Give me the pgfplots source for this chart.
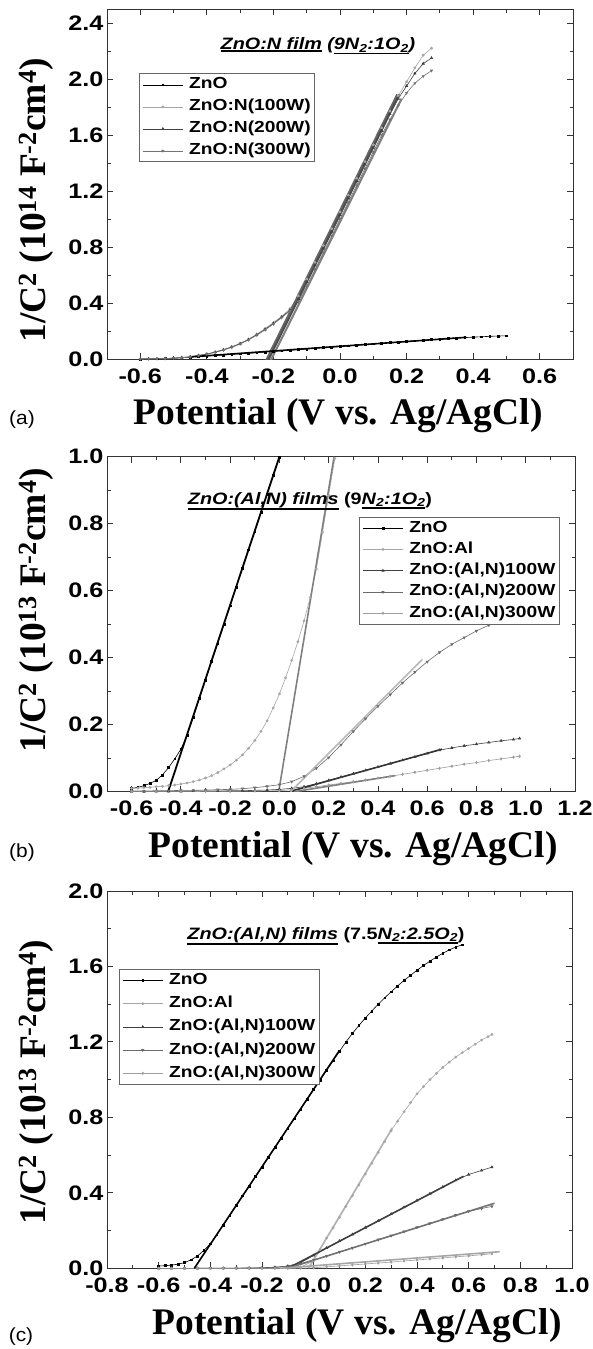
\documentclass[border=0pt]{standalone}
\usepackage{fontspec}
\setmainfont{Liberation Serif}
\newfontfamily\sansS{Liberation Sans}[FakeStretch=1.2]
\newfontfamily\sansR{Liberation Sans}[FakeStretch=1.1]
\usepackage{pgfplots}
\usepackage{pgfplotstable}
\pgfplotsset{compat=1.18}

\newcommand\ul[1]{\setbox0\hbox{#1}\rlap{\rule[\dimexpr-\dp0-2pt\relax]{\wd0}{1.5pt}}\box0\relax}
\newcommand\lab{\bfseries\fontsize{37.5}{40}\selectfont}
\newcommand\ttl{\sansS\bfseries\itshape\fontsize{16.5}{19}\selectfont}
\newcommand\plab{\sansR\fontsize{19}{20}\selectfont}

% ---------------- panel (a) ----------------
\pgfplotstableread{
x y
-0.600 0.000
-0.575 0.001
-0.550 0.002
-0.525 0.004
-0.500 0.006
-0.475 0.009
-0.450 0.013
-0.425 0.017
-0.400 0.021
-0.375 0.025
-0.350 0.029
-0.325 0.033
-0.300 0.037
-0.275 0.041
-0.250 0.045
-0.225 0.050
-0.200 0.054
-0.175 0.058
-0.150 0.063
-0.125 0.067
-0.100 0.072
-0.075 0.076
-0.050 0.081
-0.025 0.085
0.000 0.090
0.025 0.094
0.050 0.099
0.075 0.103
0.100 0.108
0.125 0.112
0.150 0.117
0.175 0.121
0.200 0.126
0.225 0.130
0.250 0.134
0.275 0.138
0.300 0.142
0.325 0.146
0.350 0.150
0.375 0.153
0.400 0.156
0.425 0.159
0.450 0.162
0.475 0.164
0.500 0.166
}\aZnO
\pgfplotstableread{
x y
-0.600 0.000
-0.575 0.001
-0.550 0.002
-0.525 0.004
-0.500 0.006
-0.475 0.011
-0.450 0.017
-0.425 0.026
-0.400 0.037
-0.375 0.051
-0.350 0.068
-0.325 0.088
-0.300 0.112
-0.275 0.142
-0.250 0.177
-0.225 0.217
-0.200 0.260
-0.175 0.305
-0.150 0.360
-0.125 0.450
-0.100 0.570
-0.075 0.690
-0.050 0.810
-0.025 0.930
0.000 1.050
0.025 1.170
0.050 1.290
0.075 1.410
0.100 1.530
0.125 1.650
0.150 1.770
0.175 1.880
0.200 1.980
0.225 2.080
0.250 2.170
0.275 2.220
}\aNa
\pgfplotstableread{
x y
-0.600 0.000
-0.575 0.001
-0.550 0.002
-0.525 0.003
-0.500 0.005
-0.475 0.010
-0.450 0.016
-0.425 0.025
-0.400 0.035
-0.375 0.049
-0.350 0.066
-0.325 0.086
-0.300 0.110
-0.275 0.139
-0.250 0.173
-0.225 0.212
-0.200 0.255
-0.175 0.300
-0.150 0.350
-0.125 0.430
-0.100 0.550
-0.075 0.670
-0.050 0.790
-0.025 0.910
0.000 1.030
0.025 1.150
0.050 1.270
0.075 1.390
0.100 1.510
0.125 1.630
0.150 1.750
0.175 1.860
0.200 1.950
0.225 2.040
0.250 2.110
0.275 2.150
}\aNb
\pgfplotstableread{
x y
-0.600 0.000
-0.575 0.001
-0.550 0.002
-0.525 0.003
-0.500 0.005
-0.475 0.009
-0.450 0.015
-0.425 0.024
-0.400 0.034
-0.375 0.047
-0.350 0.063
-0.325 0.083
-0.300 0.107
-0.275 0.136
-0.250 0.170
-0.225 0.208
-0.200 0.250
-0.175 0.295
-0.150 0.345
-0.125 0.410
-0.100 0.520
-0.075 0.640
-0.050 0.760
-0.025 0.880
0.000 1.000
0.025 1.120
0.050 1.240
0.075 1.360
0.100 1.480
0.125 1.600
0.150 1.710
0.175 1.810
0.200 1.900
0.225 1.970
0.250 2.020
0.275 2.060
}\aNc

% ---------------- panel (b) ----------------
\pgfplotstableread{
x y
-0.600 0.010
-0.575 0.013
-0.550 0.018
-0.525 0.025
-0.500 0.034
-0.475 0.050
-0.450 0.072
-0.425 0.098
-0.400 0.127
-0.375 0.168
-0.350 0.222
-0.325 0.278
-0.300 0.333
-0.275 0.389
-0.250 0.444
-0.225 0.500
-0.200 0.555
-0.175 0.611
-0.150 0.666
-0.125 0.722
-0.100 0.777
-0.075 0.833
-0.050 0.888
-0.025 0.944
0.000 0.999
}\bZnO
\pgfplotstableread{
x y
-0.600 0.010
-0.575 0.011
-0.550 0.012
-0.525 0.013
-0.500 0.015
-0.475 0.016
-0.450 0.018
-0.425 0.020
-0.400 0.023
-0.375 0.026
-0.350 0.030
-0.325 0.035
-0.300 0.041
-0.275 0.048
-0.250 0.057
-0.225 0.068
-0.200 0.080
-0.175 0.094
-0.150 0.110
-0.125 0.130
-0.100 0.153
-0.075 0.180
-0.050 0.212
-0.025 0.250
0.000 0.292
0.025 0.340
0.050 0.392
0.075 0.448
0.100 0.510
0.125 0.580
0.150 0.665
0.175 0.775
0.200 0.885
0.225 0.995
}\bAl
\pgfplotstableread{
x y
-0.600 0.000
-0.550 0.000
-0.500 0.001
-0.450 0.001
-0.400 0.001
-0.350 0.002
-0.300 0.002
-0.250 0.002
-0.200 0.003
-0.150 0.003
-0.100 0.004
-0.050 0.005
0.000 0.007
0.050 0.010
0.100 0.015
0.150 0.024
0.200 0.034
0.250 0.044
0.300 0.054
0.350 0.064
0.400 0.074
0.450 0.084
0.500 0.094
0.550 0.104
0.600 0.114
0.650 0.124
0.700 0.131
0.750 0.137
0.800 0.142
0.850 0.147
0.900 0.152
0.950 0.156
0.975 0.159
}\bNa
\pgfplotstableread{
x y
-0.600 0.002
-0.550 0.002
-0.500 0.003
-0.450 0.003
-0.400 0.004
-0.350 0.004
-0.300 0.005
-0.250 0.006
-0.200 0.007
-0.150 0.009
-0.100 0.012
-0.050 0.016
0.000 0.021
0.050 0.030
0.100 0.046
0.150 0.070
0.200 0.102
0.250 0.140
0.300 0.180
0.350 0.218
0.400 0.255
0.450 0.290
0.500 0.325
0.550 0.357
0.600 0.388
0.650 0.416
0.700 0.440
0.750 0.460
0.800 0.480
0.850 0.497
0.900 0.513
0.950 0.527
0.975 0.533
}\bNb
\pgfplotstableread{
x y
-0.600 0.000
-0.500 0.000
-0.400 0.000
-0.300 0.001
-0.200 0.001
-0.100 0.002
0.000 0.003
0.050 0.006
0.100 0.010
0.150 0.015
0.200 0.020
0.250 0.025
0.300 0.030
0.350 0.035
0.400 0.041
0.450 0.046
0.500 0.052
0.550 0.058
0.600 0.064
0.650 0.070
0.700 0.076
0.750 0.082
0.800 0.087
0.850 0.093
0.900 0.098
0.950 0.103
0.975 0.106
}\bNc

% ---------------- panel (c) ----------------
\pgfplotstableread{
x y
-0.600 0.012
-0.575 0.014
-0.550 0.017
-0.525 0.022
-0.500 0.030
-0.475 0.045
-0.450 0.065
-0.425 0.095
-0.400 0.130
-0.375 0.178
-0.350 0.230
-0.325 0.281
-0.300 0.332
-0.275 0.384
-0.250 0.435
-0.225 0.486
-0.200 0.537
-0.175 0.588
-0.150 0.640
-0.125 0.691
-0.100 0.742
-0.075 0.793
-0.050 0.845
-0.025 0.896
0.000 0.947
0.025 0.998
0.050 1.050
0.075 1.100
0.100 1.150
0.125 1.200
0.150 1.245
0.175 1.287
0.200 1.327
0.225 1.364
0.250 1.400
0.275 1.434
0.300 1.466
0.325 1.497
0.350 1.526
0.375 1.553
0.400 1.580
0.425 1.605
0.450 1.628
0.475 1.650
0.500 1.670
0.525 1.688
0.550 1.703
0.575 1.715
}\cZnO
\pgfplotstableread{
x y
-0.600 0.000
-0.550 0.000
-0.500 0.000
-0.450 0.000
-0.400 0.000
-0.350 0.000
-0.300 0.000
-0.250 0.001
-0.200 0.001
-0.150 0.001
-0.100 0.002
-0.050 0.006
0.000 0.040
0.025 0.100
0.050 0.160
0.075 0.215
0.100 0.270
0.125 0.328
0.150 0.385
0.175 0.442
0.200 0.500
0.225 0.557
0.250 0.615
0.275 0.672
0.300 0.730
0.325 0.780
0.350 0.830
0.375 0.878
0.400 0.925
0.425 0.963
0.450 1.000
0.475 1.033
0.500 1.065
0.525 1.093
0.550 1.120
0.575 1.143
0.600 1.165
0.625 1.188
0.650 1.210
0.675 1.228
0.690 1.240
}\cAl
\pgfplotstableread{
x y
-0.600 0.000
-0.550 0.000
-0.500 0.000
-0.450 0.000
-0.400 0.001
-0.350 0.001
-0.300 0.001
-0.250 0.002
-0.200 0.003
-0.150 0.006
-0.100 0.012
-0.050 0.030
0.000 0.068
0.050 0.108
0.100 0.145
0.150 0.180
0.200 0.216
0.250 0.252
0.300 0.288
0.350 0.324
0.400 0.360
0.450 0.396
0.500 0.432
0.550 0.467
0.600 0.497
0.650 0.519
0.690 0.536
}\cNa
\pgfplotstableread{
x y
-0.600 0.000
-0.550 0.000
-0.500 0.000
-0.450 0.000
-0.400 0.001
-0.350 0.001
-0.300 0.001
-0.250 0.001
-0.200 0.002
-0.150 0.004
-0.100 0.010
-0.050 0.025
0.000 0.045
0.050 0.065
0.100 0.087
0.150 0.108
0.200 0.130
0.250 0.152
0.300 0.173
0.350 0.195
0.400 0.217
0.450 0.238
0.500 0.260
0.550 0.282
0.600 0.302
0.650 0.317
0.690 0.328
}\cNb
\pgfplotstableread{
x y
-0.600 0.000
-0.550 0.000
-0.500 0.000
-0.450 0.000
-0.400 0.000
-0.350 0.000
-0.300 0.000
-0.250 0.000
-0.200 0.000
-0.150 0.000
-0.100 0.000
-0.050 0.001
0.000 0.003
0.050 0.008
0.100 0.013
0.150 0.018
0.200 0.023
0.250 0.028
0.300 0.033
0.350 0.039
0.400 0.044
0.450 0.050
0.500 0.055
0.550 0.061
0.600 0.066
0.650 0.072
0.690 0.077
}\cNc

\pgfplotsset{
  panel/.style={
    scale only axis, anchor=north west,
    axis line style={black!80, line width=1pt},
    tick style={black!80, line width=0.9pt},
    major tick length=6pt, minor tick length=3.5pt,
    tick align=inside,
    minor x tick num=1, minor y tick num=1,
    /pgf/number format/fixed,
    /pgf/number format/fixed zerofill,
    /pgf/number format/precision=1,
    /pgf/number format/assume math mode=true,
    tick label style={font=\sansS\bfseries\fontsize{21}{21}\selectfont},
    xticklabel style={yshift=-6pt},
    legend cell align=left,
    legend style={draw=black!60, line width=0.8pt, fill=white,
      inner xsep=3pt, inner ysep=2pt,
      font=\sansS\bfseries\fontsize{16}{18}\selectfont,
      column sep=5pt,
      nodes={inner sep=1pt, text height=12pt, text depth=4pt}},
    legend image code/.code={
      \draw[##1] (0pt,0pt) -- (40pt,0pt);
      \draw[##1] plot coordinates {(20pt,0pt)};
    },
  },
  dat/.style={line width=0.6pt, mark size=1.1pt},
  fitl/.style={line width=1.6pt, forget plot},
}

\begin{document}
\begin{tikzpicture}
\path[use as bounding box] (0pt,0pt) rectangle (592pt,-1349pt);

% ================= (a) =================
\begin{axis}[panel, at={(107pt,-9pt)}, width=466pt, height=350pt,
  xmin=-0.7, xmax=0.7, ymin=0, ymax=2.5,
  xtick={-0.6,-0.4,...,0.61}, ytick={0,0.4,...,2.41},
  legend style={at={(0.069,0.816)}, anchor=north west, row sep=4pt}]
\addplot[dat, black, mark=square*, mark size=0.9pt] table {\aZnO};
\addlegendentry{ZnO}
\addplot[dat, black!35, mark=*] table {\aNa};
\addlegendentry{ZnO:N(100W)}
\addplot[dat, black!75, mark=triangle*, mark size=1.3pt] table {\aNb};
\addlegendentry{ZnO:N(200W)}
\addplot[dat, black!55, mark=triangle*, mark size=1.3pt, mark options={rotate=180}] table {\aNc};
\addlegendentry{ZnO:N(300W)}
\addplot[fitl, black!60, line width=2pt] coordinates {(-0.222,-0.01) (0.172,1.89)};
\addplot[fitl, black!70, line width=2pt] coordinates {(-0.216,-0.01) (0.178,1.89)};
\addplot[fitl, black!50, line width=2pt] coordinates {(-0.208,-0.01) (0.185,1.86)};
\addplot[fitl, black, line width=1.6pt] coordinates {(-0.45,0.015) (0.38,0.155)};
\end{axis}

% ================= (b) =================
\begin{axis}[panel, at={(107pt,-456.7pt)}, width=468pt, height=335pt,
  xmin=-0.7, xmax=1.2, ymin=0, ymax=1.0,
  xtick={-0.6,-0.4,...,1.21}, ytick={0,0.2,...,1.01},
  legend style={at={(0.539,0.821)}, anchor=north west, row sep=3.3pt}]
\addplot[dat, black, mark=square*, mark size=0.9pt] table {\bZnO};
\addlegendentry{ZnO}
\addplot[dat, black!35, mark=*] table {\bAl};
\addlegendentry{ZnO:Al}
\addplot[dat, black!75, mark=triangle*, mark size=1.3pt] table {\bNa};
\addlegendentry{ZnO:(Al,N)100W}
\addplot[dat, black!58, mark=triangle*, mark size=1.3pt, mark options={rotate=180}] table {\bNb};
\addlegendentry{ZnO:(Al,N)200W}
\addplot[dat, black!38, mark=diamond*, mark size=1.2pt] table {\bNc};
\addlegendentry{ZnO:(Al,N)300W}
\addplot[fitl, black, line width=1.8pt] coordinates {(-0.452,0) (0.0,1.0)};
\addplot[fitl, black!50] coordinates {(-0.003,0) (0.222,1.0)};
\addplot[fitl, black!80] coordinates {(0.04,0) (0.66,0.127)};
\addplot[fitl, black!28] coordinates {(0.045,0) (0.58,0.395)};
\addplot[fitl, black!50] coordinates {(0.06,0) (0.47,0.048)};
\end{axis}

% ================= (c) =================
\begin{axis}[panel, at={(107pt,-891pt)}, width=465pt, height=377.3pt,
  xmin=-0.8, xmax=1.0, ymin=0, ymax=2.0,
  xtick={-0.8,-0.6,...,1.01}, ytick={0,0.4,...,2.01},
  legend style={at={(0.026,0.793)}, anchor=north west, row sep=5.2pt}]
\addplot[dat, black, mark=square*, mark size=0.9pt] table {\cZnO};
\addlegendentry{ZnO}
\addplot[dat, black!35, mark=*] table {\cAl};
\addlegendentry{ZnO:Al}
\addplot[dat, black!75, mark=triangle*, mark size=1.3pt] table {\cNa};
\addlegendentry{ZnO:(Al,N)100W}
\addplot[dat, black!58, mark=triangle*, mark size=1.3pt, mark options={rotate=180}] table {\cNb};
\addlegendentry{ZnO:(Al,N)200W}
\addplot[dat, black!38, mark=diamond*, mark size=1.2pt] table {\cNc};
\addlegendentry{ZnO:(Al,N)300W}
\addplot[fitl, black, line width=1.6pt] coordinates {(-0.462,0) (0.1,1.155)};
\addplot[fitl, black!30] coordinates {(-0.02,0) (0.305,0.745)};
\addplot[fitl, black!75] coordinates {(-0.10,0) (0.58,0.488)};
\addplot[fitl, black!55] coordinates {(-0.10,0) (0.70,0.345)};
\addplot[fitl, black!35] coordinates {(-0.13,0) (0.72,0.088)};
\end{axis}

% ---------- labels ----------
\node[font=\lab] at (338pt,-416pt) {Potential (V vs. Ag/AgCl)};
\node[font=\lab] at (353pt,-849pt) {Potential (V vs. Ag/AgCl)};
\node[font=\lab] at (357pt,-1326pt) {Potential (V vs. Ag/AgCl)};

\node[font=\lab, rotate=90] at (36pt,-200pt) {1/C\textsuperscript{2} (10\textsuperscript{14} F\textsuperscript{-2}cm\textsuperscript{4})};
\node[font=\lab, rotate=90] at (36pt,-610pt) {1/C\textsuperscript{2} (10\textsuperscript{13} F\textsuperscript{-2}cm\textsuperscript{4})};
\node[font=\lab, rotate=90] at (36pt,-1082pt) {1/C\textsuperscript{2} (10\textsuperscript{13} F\textsuperscript{-2}cm\textsuperscript{4})};

\node[font=\plab] at (22pt,-420pt) {(a)};
\node[font=\plab] at (22pt,-853pt) {(b)};
\node[font=\plab] at (21pt,-1337pt) {(c)};

\node[font=\ttl] at (318pt,-46pt) {\ul{ZnO:N film} (\ul{9N\textsubscript{2}:1O\textsubscript{2}})};
\node[font=\ttl] at (310pt,-501pt) {\ul{ZnO:(Al,N) films} {\upshape(9}\ul{N\textsubscript{2}:1O\textsubscript{2}}{\upshape)}};
\node[font=\ttl] at (326pt,-936pt) {\ul{ZnO:(Al,N) films} {\upshape(7.5}\ul{N\textsubscript{2}:2.5O\textsubscript{2}}{\upshape)}};
\end{tikzpicture}
\end{document}
